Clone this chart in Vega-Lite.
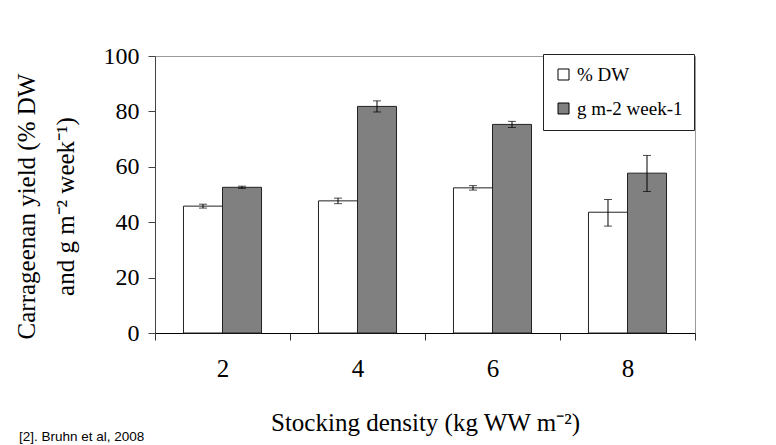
{
  "$schema": "https://vega.github.io/schema/vega-lite/v6.json",
  "autosize": {"type": "none"},
  "padding": {"left": 155, "top": 56, "right": 81, "bottom": 112},
  "width": 540,
  "height": 277,
  "background": "white",
  "title": {
    "text": "[2]. Bruhn et al, 2008",
    "orient": "bottom",
    "anchor": "start",
    "frame": "group",
    "font": "Liberation Sans",
    "fontSize": 13.5,
    "fontWeight": "normal",
    "color": "black",
    "dx": -136,
    "offset": -5
  },
  "config": {
    "view": {"stroke": "#9a9a9a", "strokeWidth": 1},
    "font": "Liberation Serif"
  },
  "data": {
    "values": [
      {"density": "2", "series": "% DW", "value": 45.8, "lo": 45.1, "hi": 46.5},
      {"density": "2", "series": "g m-2 week-1", "value": 52.6, "lo": 52.2, "hi": 53.0},
      {"density": "4", "series": "% DW", "value": 47.7, "lo": 46.7, "hi": 48.7},
      {"density": "4", "series": "g m-2 week-1", "value": 81.8, "lo": 79.8, "hi": 83.8},
      {"density": "6", "series": "% DW", "value": 52.4, "lo": 51.6, "hi": 53.2},
      {"density": "6", "series": "g m-2 week-1", "value": 75.3, "lo": 74.2, "hi": 76.4},
      {"density": "8", "series": "% DW", "value": 43.6, "lo": 38.6, "hi": 48.2},
      {"density": "8", "series": "g m-2 week-1", "value": 57.7, "lo": 51.1, "hi": 64.1}
    ]
  },
  "encoding": {
    "x": {
      "field": "density",
      "type": "nominal",
      "sort": ["2", "4", "6", "8"],
      "scale": {"paddingInner": 0, "paddingOuter": 0},
      "axis": {
        "title": "Stocking density (kg WW m⁻²)",
        "labelAngle": 0,
        "labelFont": "Liberation Serif",
        "labelFontSize": 25,
        "labelColor": "black",
        "labelPadding": 16,
        "tickBand": "extent",
        "tickSize": 7,
        "tickColor": "#333",
        "domainColor": "black",
        "titleFont": "Liberation Serif",
        "titleFontSize": 25,
        "titleFontWeight": "normal",
        "titleColor": "black",
        "titlePadding": 29
      }
    },
    "xOffset": {
      "field": "series",
      "type": "nominal",
      "sort": ["% DW", "g m-2 week-1"],
      "scale": {"paddingInner": 0, "paddingOuter": 0.73}
    }
  },
  "layer": [
    {
      "mark": {"type": "bar", "stroke": "#222", "strokeWidth": 1},
      "encoding": {
        "y": {
          "field": "value",
          "type": "quantitative",
          "scale": {"domain": [0, 100], "nice": false},
          "axis": {
            "values": [0, 20, 40, 60, 80, 100],
            "grid": false,
            "title": ["Carrageenan yield (% DW", "and g m⁻² week⁻¹)"],
            "titleFont": "Liberation Serif",
            "titleFontSize": 25,
            "titleFontWeight": "normal",
            "titleColor": "black",
            "titleLineHeight": 39,
            "titlePadding": 25,
            "titleY": 150,
            "labelFont": "Liberation Serif",
            "labelFontSize": 24,
            "labelColor": "black",
            "labelPadding": 9,
            "tickSize": 7,
            "tickColor": "#444",
            "domainColor": "#444"
          }
        },
        "color": {
          "field": "series",
          "type": "nominal",
          "scale": {"domain": ["% DW", "g m-2 week-1"], "range": ["#ffffff", "#808080"]},
          "legend": {
            "title": null,
            "orient": "none",
            "legendX": 388,
            "legendY": -2,
            "fillColor": "white",
            "strokeColor": "#222",
            "padding": 11,
            "symbolType": "square",
            "symbolSize": 121,
            "symbolStrokeColor": "black",
            "symbolStrokeWidth": 1,
            "symbolOpacity": 1,
            "labelFont": "Liberation Serif",
            "labelFontSize": 19,
            "labelColor": "black",
            "labelOffset": 4,
            "rowPadding": 14
          }
        }
      }
    },
    {
      "mark": {"type": "rule", "color": "black", "strokeWidth": 1},
      "encoding": {
        "y": {"field": "lo", "type": "quantitative"},
        "y2": {"field": "hi"}
      }
    },
    {
      "mark": {"type": "tick", "color": "black", "thickness": 1, "size": 8},
      "encoding": {
        "y": {"field": "lo", "type": "quantitative"}
      }
    },
    {
      "mark": {"type": "tick", "color": "black", "thickness": 1, "size": 8},
      "encoding": {
        "y": {"field": "hi", "type": "quantitative"}
      }
    }
  ]
}
